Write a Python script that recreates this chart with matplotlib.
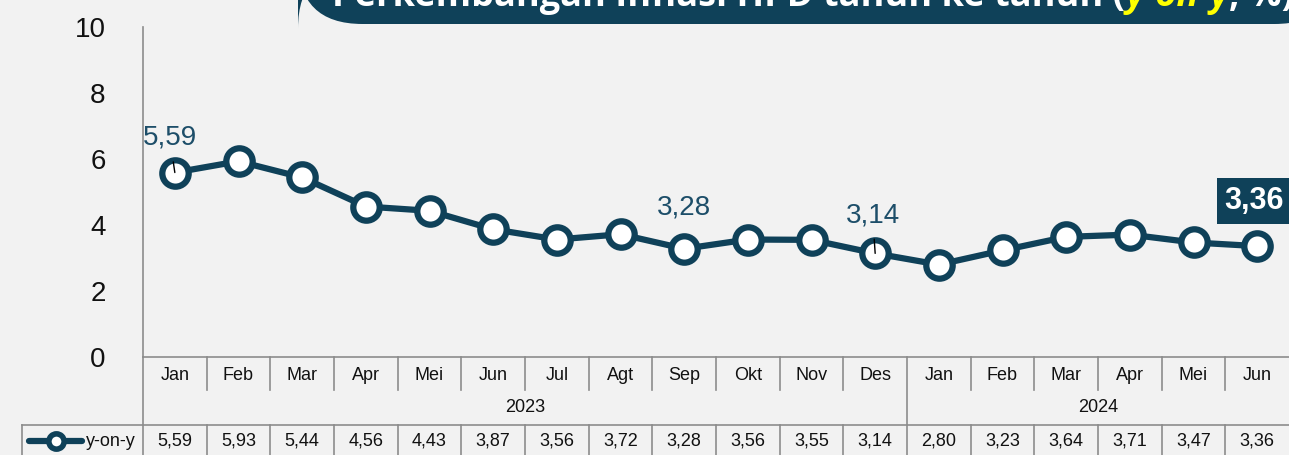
import matplotlib
matplotlib.use("Agg")
import matplotlib.pyplot as plt
from matplotlib.patches import FancyBboxPatch
from matplotlib.lines import Line2D

months = ["Jan", "Feb", "Mar", "Apr", "Mei", "Jun", "Jul", "Agt", "Sep", "Okt", "Nov", "Des",
          "Jan", "Feb", "Mar", "Apr", "Mei", "Jun"]
years = ["2023", "2024"]
year_counts = [12, 6]
yoy = [5.59, 5.93, 5.44, 4.56, 4.43, 3.87, 3.56, 3.72, 3.28, 3.56, 3.55, 3.14,
       2.80, 3.23, 3.64, 3.71, 3.47, 3.36]
series_name = "y-on-y"
yticks = [0, 2, 4, 6, 8, 10]

BG = "#f2f2f2"
DARK = "#0f4159"
LBL = "#1d4e69"
GRID = "#8c8c8c"
NARROW = ["Liberation Sans Narrow", "Liberation Sans", "DejaVu Sans"]

W, H = 1289, 455
fig = plt.figure(figsize=(W / 100, H / 100), dpi=100, facecolor=BG)
# axes: x from 143 to 1289 px, y from 27 (10) to 357 (0)
ax = fig.add_axes([143 / W, (H - 357) / H, (W - 143) / W, (357 - 27) / H])
ax.set_facecolor(BG)
n = len(yoy)
x = list(range(n))
ax.set_xlim(-0.5, n - 0.5)
ax.set_ylim(0, 10)
for s in ["top", "right", "bottom"]:
    ax.spines[s].set_visible(False)
ax.spines["left"].set_color(GRID)
ax.spines["left"].set_linewidth(1.2)
ax.set_xticks([])
ax.set_yticks(yticks)
ax.set_yticklabels([str(t) for t in yticks], family=NARROW, fontsize=20, color="#111111")
ax.tick_params(axis="y", length=0, pad=27)

ax.plot(x, yoy, color=DARK, lw=4.5, marker="o", ms=19, mfc="white", mec=DARK, mew=4.5,
        solid_capstyle="round", zorder=3)

# annotations
def ann(i, dx, dy, leader):
    ax.annotate(f"{yoy[i]:.2f}".replace(".", ","), xy=(i, yoy[i]), xytext=(i + dx, yoy[i] + dy),
                ha="center", va="center", family=NARROW, fontsize=20, color=LBL, zorder=5,
                arrowprops=dict(arrowstyle="-", color="black", lw=1, shrinkA=6, shrinkB=0)
                if leader else None)

ann(0, -0.08, 1.05, True)
ann(8, 0.0, 1.24, False)
ann(11, -0.04, 1.16, True)
ax.text(16.95, yoy[17] + 1.37, f"{yoy[17]:.2f}".replace(".", ","), ha="center", va="center",
        family=NARROW, fontsize=22, fontweight="bold", color="white", zorder=6,
        bbox=dict(boxstyle="square,pad=0.25", fc=DARK, ec="none"))

# table below the axes (units: 1 data unit = 33 px)
u = 33.0
def py(p):  # pixel y (from top) -> data y
    return (357 - p) / u

row1_bot = py(390)
row2_bot = py(425)
bottom = py(470)
kw = dict(color=GRID, lw=1.2, clip_on=False)
for b in range(1, n):
    xb = b - 0.5
    if b == year_counts[0]:
        ax.add_line(Line2D([xb, xb], [0, bottom], **kw))
    else:
        ax.add_line(Line2D([xb, xb], [0, row1_bot], **kw))
        ax.add_line(Line2D([xb, xb], [row2_bot, bottom], **kw))
ax.add_line(Line2D([-0.5, -0.5], [0, bottom], **kw))
ax.add_line(Line2D([-0.5, n - 0.5], [0, 0], **kw))
cw = (W - 143) / n
def pxx(p):
    return (p - 143) / cw - 0.5
x_leg_left = pxx(22)
ax.add_line(Line2D([x_leg_left, n - 0.5], [row2_bot, row2_bot], **kw))
ax.add_line(Line2D([x_leg_left, x_leg_left], [row2_bot, bottom], **kw))

for i, m in enumerate(months):
    ax.text(i, py(375), m, ha="center", va="center", family=NARROW, fontsize=13,
            color="#111111", clip_on=False)
    ax.text(i, py(441), f"{yoy[i]:.2f}".replace(".", ","), ha="center", va="center",
            family=NARROW, fontsize=13, color="#111111", clip_on=False)
start = 0
for yr, c in zip(years, year_counts):
    ax.text(start + (c - 1) / 2, py(407), yr, ha="center", va="center", family=NARROW,
            fontsize=13, color="#111111", clip_on=False)
    start += c

# legend cell
ax.add_line(Line2D([pxx(29), pxx(82)], [py(441), py(441)], color=DARK, lw=4.5,
                   solid_capstyle="round", clip_on=False))
ax.plot([pxx(56)], [py(441)], marker="o", ms=11, mfc="white", mec=DARK, mew=4, clip_on=False)
ax.text(pxx(86), py(441), series_name, ha="left", va="center", family=NARROW, fontsize=13,
        color="#111111", clip_on=False)

# title banner
banner = FancyBboxPatch((298 / W, (H - 24) / H), (W + 50 - 298) / W, 60 / H,
                        boxstyle="round,pad=0,rounding_size=0.05", transform=fig.transFigure,
                        fc=DARK, ec="none", mutation_aspect=W / H)
fig.patches.append(banner)

fig.canvas.draw()
r = fig.canvas.get_renderer()
yb = (H - 6) / H
parts = [("Perkembangan Inflasi HPD tahun ke tahun (", "white", "normal"),
         ("y-on-y", "#ffff00", "italic"),
         (", %)", "white", "normal")]
xcur = 332 / W
for txt, col, sty in parts:
    t = fig.text(xcur, yb, txt, ha="left", va="baseline", fontsize=26, fontweight="bold",
                 style=sty, color=col, family=["Open Sans", "DejaVu Sans"])
    bb = t.get_window_extent(r)
    xcur = bb.x1 / W

fig.savefig("out.png", dpi=100, facecolor=BG)
